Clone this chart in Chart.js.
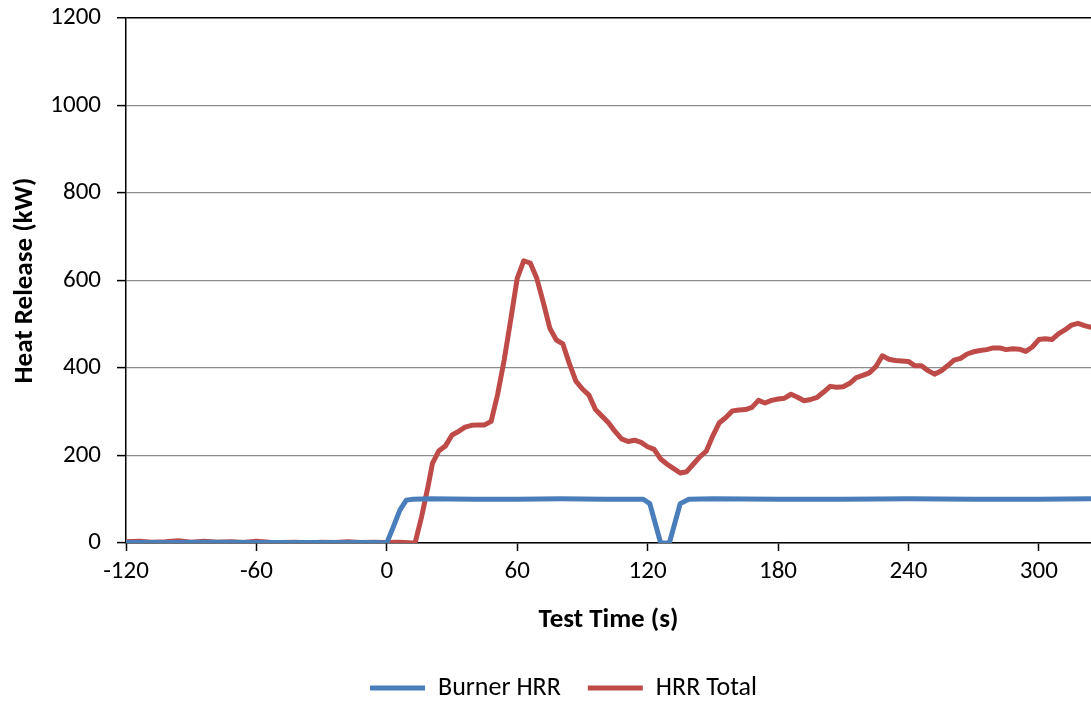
<!DOCTYPE html>
<html>
<head>
<meta charset="utf-8">
<script src="https://cdn.jsdelivr.net/npm/chart.js@4"></script>
<style>
  body{margin:0;background:#fff;}
  #wrap{width:1091px;height:704px;}
</style>
</head>
<body>
<div id="wrap"><canvas id="hrrChart" width="1091" height="704"></canvas></div>
<script>
// ---- data ----
const burnerTime = [-120,-100,-80,-60,-40,-20,-5,0,3,6,9,12,20,40,60,80,100,118,121,126,130,135,139,150,180,210,240,270,300,324];
const burnerHRR  = [1,1,2,1,1,1,1,0,37,75,98,100,101,100,100,101,100,100,90,0,0,90,100,101,100,100,101,100,100,101];

const totalTime = [-120,-114,-108,-102,-96,-90,-84,-78,-72,-66,-60,-54,-48,-42,-36,-30,-24,-18,-12,-6,0,6,12,13,16,19,21,24,27,30,33,36,39,42,45,48,51,54,57,60,63,66,69,72,75,78,81,84,87,90,93,96,99,102,105,108,111,114,117,120,123,126,129,132,135,138,141,144,147,150,153,156,159,162,165,168,171,174,177,180,183,186,189,192,195,198,201,204,207,210,213,216,219,222,225,228,231,234,237,240,243,246,249,252,255,258,261,264,267,270,273,276,279,282,285,288,291,294,297,300,303,306,309,312,315,318,321,324];
const totalHRR  = [3,4,2,3,5,2,4,2,3,1,4,2,1,2,0,2,1,3,1,2,1,2,0,0,60,130,182,211,222,247,255,265,269,270,270,278,340,418,510,605,645,640,605,550,491,464,455,410,370,352,338,305,290,275,255,238,232,235,230,220,214,192,180,170,160,163,180,197,210,245,275,287,302,304,305,310,326,320,326,329,331,340,333,325,328,333,345,358,356,357,365,378,383,389,403,428,420,417,416,415,405,405,394,386,393,405,418,422,432,437,440,442,446,446,442,444,443,438,448,465,467,465,478,487,498,502,497,493];

const xTicks = [-120,-60,0,60,120,180,240,300];
const seriesNames = ['Burner HRR','HRR Total'];

const FONT = "Carlito, Calibri, Lato, sans-serif";
const BLUE = '#4a7ebb';
const RED  = '#be4b48';
const PLOT_BOTTOM = 543;

function pairs(xs, ys){ return xs.map((x,i)=>({x:x, y:ys[i]})); }

// nudge the legend a little right, like the original sheet
const legendShift = {
  id: 'legendShift',
  afterLayout(chart){
    if(chart.legend){ chart.legend.left += 18; chart.legend.right += 18; }
  }
};

const ctx = document.getElementById('hrrChart').getContext('2d');
new Chart(ctx, {
  type: 'line',
  data: {
    datasets: [
      {label: seriesNames[0], data: pairs(burnerTime, burnerHRR), borderColor: BLUE, backgroundColor: BLUE,
       borderWidth: 5, pointRadius: 0, tension: 0, borderJoinStyle: 'round', borderCapStyle: 'round'},
      {label: seriesNames[1], data: pairs(totalTime, totalHRR), borderColor: RED, backgroundColor: RED,
       borderWidth: 5, pointRadius: 0, tension: 0, borderJoinStyle: 'round', borderCapStyle: 'round'}
    ]
  },
  plugins: [legendShift],
  options: {
    responsive: false,
    animation: false,
    layout: {padding: {top: 18, left: 0, right: 0, bottom: -7}},
    plugins: {
      tooltip: {enabled: false},
      legend: {
        position: 'bottom',
        labels: {
          font: {family: FONT, size: 26},
          color: '#000',
          boxWidth: 55,
          boxHeight: 5,
          padding: 27,
          generateLabels: chart => chart.data.datasets.map((d,i)=>({
            text: d.label, fillStyle: d.borderColor, strokeStyle: d.borderColor,
            lineWidth: 0, datasetIndex: i, fontColor: '#000'
          }))
        }
      }
    },
    scales: {
      x: {
        type: 'linear',
        min: -120, max: 324,
        afterBuildTicks: s => { s.ticks = xTicks.map(v=>({value:v})); },
        afterFit: s => {
          const lg = s.chart.legend;
          const lh = lg && lg.height ? lg.height : 60;
          s.height = s.chart.height + 7 - PLOT_BOTTOM - lh;
        },
        ticks: {font: {family: FONT, size: 25}, color: '#000', padding: 6, maxRotation: 0, autoSkip: false},
        grid: {drawOnChartArea: false, drawTicks: true, tickLength: 8, tickColor: '#000', tickWidth: 1.5},
        border: {color: '#000', width: 1.5},
        title: {display: true, text: 'Test Time (s)', font: {family: FONT, size: 27, weight: 'bold'}, color: '#000', padding: {top: 4, bottom: 12}}
      },
      y: {
        min: 0, max: 1200,
        afterFit: s => { s.width = 126; s.paddingTop = 0; s.paddingBottom = 0; },
        ticks: {stepSize: 200, font: {family: FONT, size: 25}, color: '#000', padding: 16, callback: v => String(v)},
        grid: {
          color: c => c.tick && c.tick.value === 1200 ? '#000' : '#8c8c8c',
          lineWidth: c => c.tick && c.tick.value === 1200 ? 1.5 : 1.2,
          tickLength: 9, tickColor: '#000', tickWidth: 1.5
        },
        border: {color: '#000', width: 1.5},
        title: {display: true, text: 'Heat Release (kW)', font: {family: FONT, size: 27, weight: 'bold'}, color: '#000', padding: {bottom: 0, top: 9}}
      }
    }
  }
});
</script>
</body>
</html>
